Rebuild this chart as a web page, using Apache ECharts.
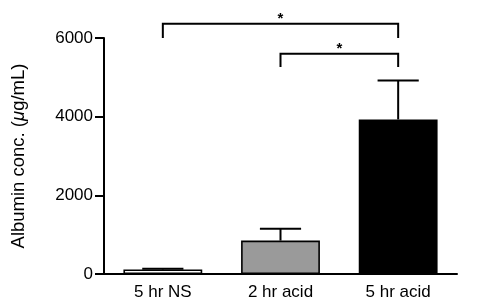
<!DOCTYPE html>
<html><head><meta charset="utf-8">
<script src="https://cdn.jsdelivr.net/npm/echarts@6/dist/echarts.min.js"></script>
<style>html,body{margin:0;padding:0;background:#fff}#c{width:500px;height:306px}</style>
</head><body><div id="c"></div>
<script>
const categories = ['5 hr NS', '2 hr acid', '5 hr acid'];
const means = [115, 850, 3930];
const errors = [20, 300, 990];
const barColors = ['#ffffff', '#9a9a9a', '#000000'];
const yTicks = [0, 2000, 4000, 6000];
// brackets: [fromIndex, toIndex, legBottomValue, topValue, label]
const brackets = [
  [0, 2, 6000, 6360, '*'],
  [1, 2, 5260, 5600, '*']
];

const FONT = '"Liberation Sans", Arial, sans-serif';
const chart = echarts.init(document.getElementById('c'), null, {renderer: 'canvas'});

chart.setOption({
  animation: false,
  backgroundColor: '#fff',
  grid: {left: 104, right: 43, top: 38, bottom: 32, containLabel: false},
  xAxis: {
    type: 'category',
    data: categories,
    axisLine: {lineStyle: {color: '#000', width: 2}},
    axisTick: {alignWithLabel: true, length: 7, lineStyle: {color: '#000', width: 2}},
    axisLabel: {color: '#000', fontSize: 17, fontFamily: FONT, margin: 10}
  },
  yAxis: {
    type: 'value',
    min: yTicks[0], max: yTicks[yTicks.length - 1], interval: yTicks[1] - yTicks[0],
    splitLine: {show: false},
    axisLine: {show: true, lineStyle: {color: '#000', width: 2}},
    axisTick: {show: true, length: 9, lineStyle: {color: '#000', width: 2}},
    axisLabel: {color: '#000', fontSize: 17, fontFamily: FONT, margin: 11, formatter: v => String(v)},
    name: '{n|Albumin conc. (}{i|μ}{n|g/mL)}',
    nameLocation: 'middle',
    nameGap: 76,
    nameRotate: 90,
    nameTextStyle: {
      rich: {
        n: {fontSize: 18.5, fontFamily: FONT, color: '#000'},
        i: {fontSize: 18.5, fontFamily: FONT, color: '#000', fontStyle: 'italic'}
      }
    }
  },
  series: [
    {
      type: 'bar',
      barWidth: '67%',
      data: means.map((v, i) => ({value: v, itemStyle: {color: barColors[i], borderColor: '#000', borderWidth: 1.6}})),
      z: 2
    },
    {
      type: 'custom',
      z: 3,
      data: means.map((v, i) => [i, v, errors[i]]),
      renderItem: function (params, api) {
        const i = api.value(0), m = api.value(1), e = api.value(2);
        const p0 = api.coord([i, m]);
        const p1 = api.coord([i, m + e]);
        const half = api.size([1, 0])[0] * 0.175;
        return {
          type: 'group',
          children: [
            {type: 'line', shape: {x1: p0[0], y1: p0[1], x2: p1[0], y2: p1[1]}, style: {stroke: '#000', lineWidth: 2}},
            {type: 'line', shape: {x1: p1[0] - half, y1: p1[1], x2: p1[0] + half, y2: p1[1]}, style: {stroke: '#000', lineWidth: 2}}
          ]
        };
      }
    },
    {
      type: 'custom',
      z: 3,
      clip: false,
      data: brackets,
      renderItem: function (params, api) {
        const b = brackets[params.dataIndex];
        const a0 = api.coord([b[0], b[2]]);
        const a1 = api.coord([b[0], b[3]]);
        const c0 = api.coord([b[1], b[2]]);
        const c1 = api.coord([b[1], b[3]]);
        return {
          type: 'group',
          children: [
            {type: 'polyline', shape: {points: [a0, a1, c1, c0]}, style: {stroke: '#000', lineWidth: 2, fill: null}},
            {type: 'text', style: {text: b[4], x: (a1[0] + c1[0]) / 2, y: a1[1] + 3, textAlign: 'center', textVerticalAlign: 'bottom', font: 'bold 15px ' + FONT, fill: '#000'}}
          ]
        };
      }
    }
  ]
});
</script>
</body></html>
